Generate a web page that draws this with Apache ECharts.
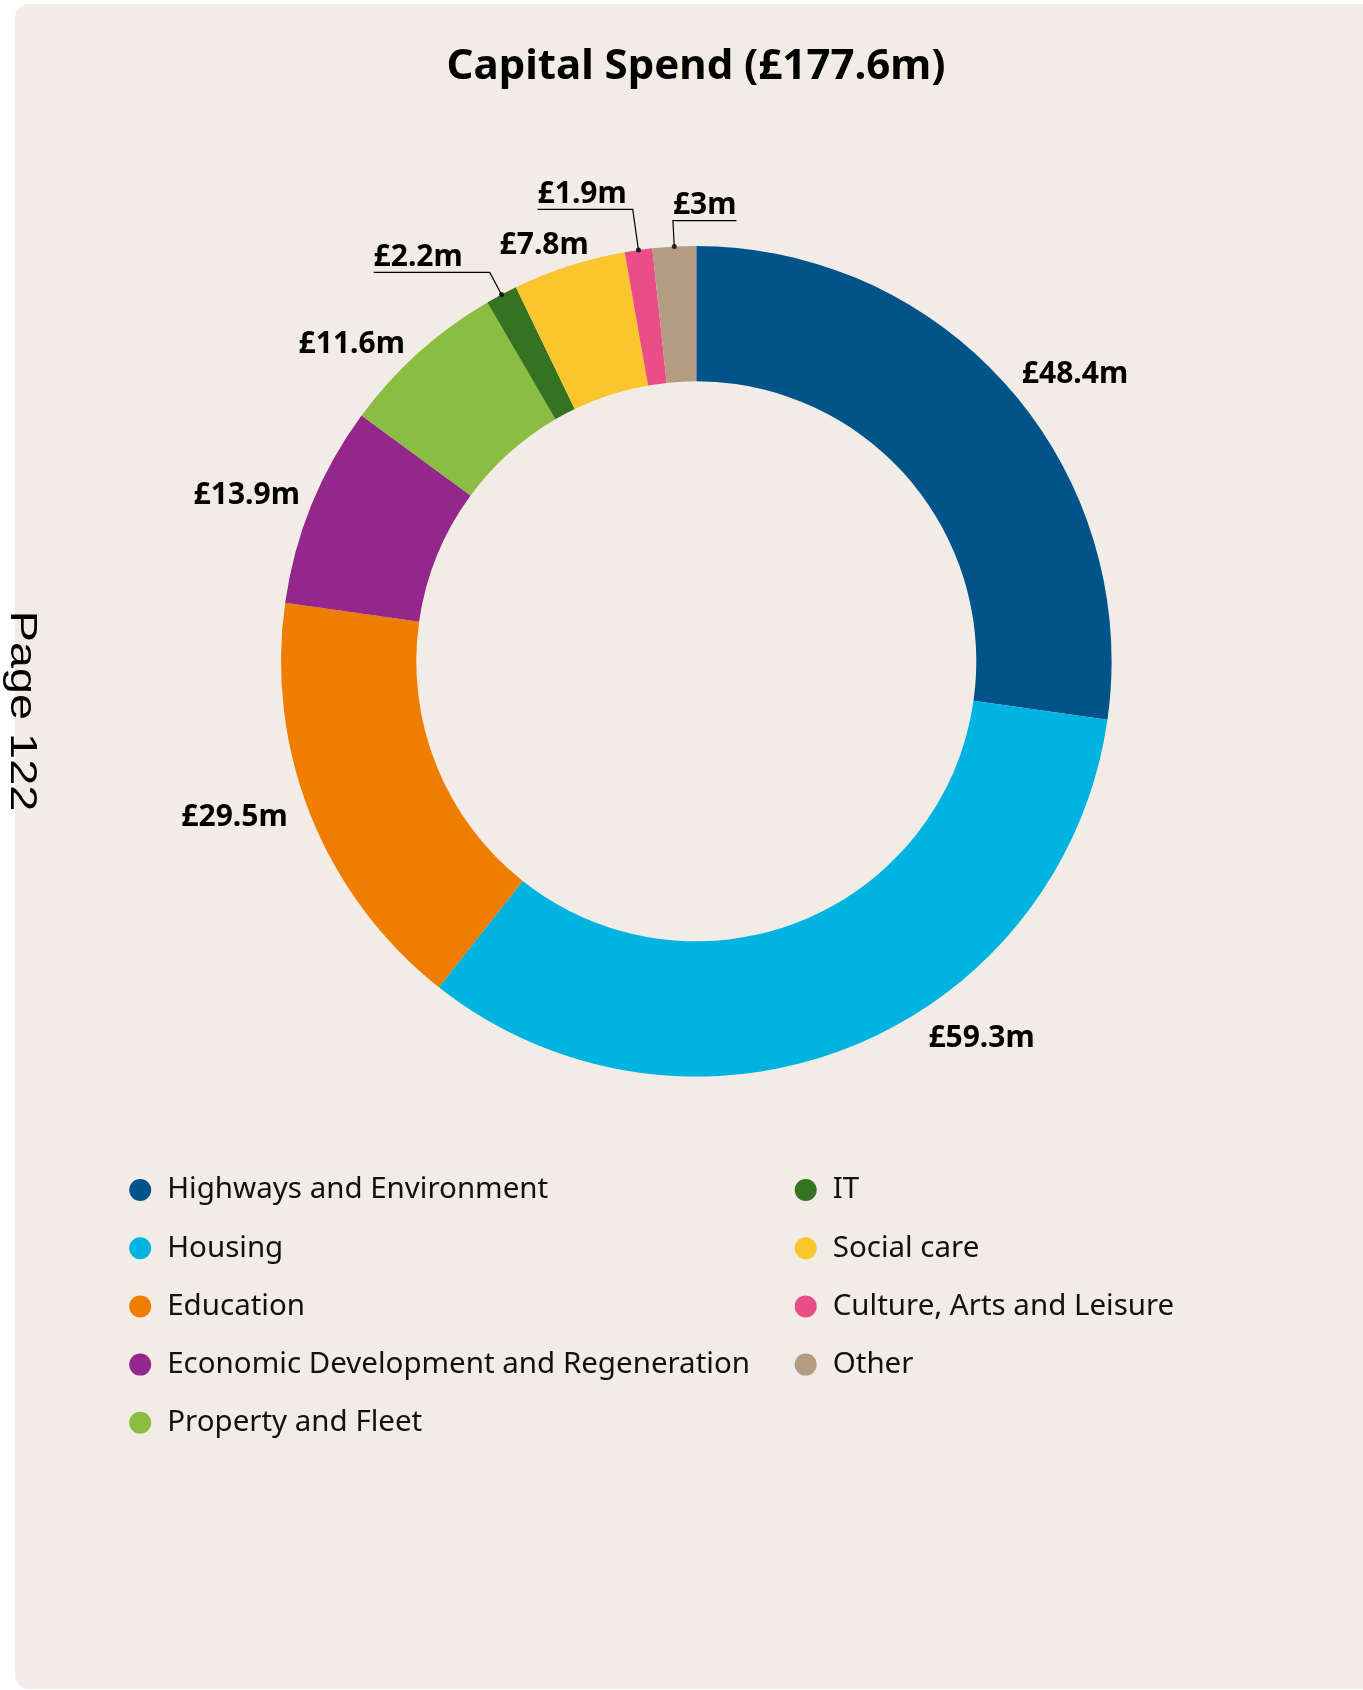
<!DOCTYPE html>
<html>
<head>
<meta charset="utf-8">
<script src="https://cdn.jsdelivr.net/npm/echarts@6/dist/echarts.min.js"></script>
<style>
  html, body { margin: 0; padding: 0; background: #ffffff; }
  #chart { width: 1363px; height: 1690px; }
</style>
</head>
<body>
<div id="chart"></div>
<script>
// ---- data ----
const categories = [
  'Highways and Environment',
  'Housing',
  'Education',
  'Economic Development and Regeneration',
  'Property and Fleet',
  'IT',
  'Social care',
  'Culture, Arts and Leisure',
  'Other'
];
const values = [48.4, 59.3, 29.5, 13.9, 11.6, 2.2, 7.8, 1.9, 3];
const titleText = 'Capital Spend (£177.6m)';
const leftLegend = categories.slice(0, 5);
const rightLegend = categories.slice(5);

// ---- styles ----
const colors = ['#01548a', '#00b3e0', '#ef7d00', '#93278b', '#8abd42', '#357222', '#fbc52e', '#e94e87', '#b49b84'];
// label line [length, length2] per slice (styling only)
const labelLens = [[25, -7], [-11, 82], [0, 23], [29, -15], [13, 5], [25, 27], [24, -27], [41, 6], [26, 0]];
const withConnector = [false, false, false, false, false, true, false, true, true];
const flipRight = [false, false, false, false, false, false, false, false, true];

const CX = 696.3, CY = 661.3, R_OUT = 415.3, R_IN = 280;
const FONT = '"Noto Sans", sans-serif';

const total = values.reduce((a, b) => a + b, 0);
let acc = 0;
const mids = values.map(v => { const m = acc + v / 2; acc += v; return m; });
const dotData = values.map((v, i) => withConnector[i] ? [1, mids[i]] : null).filter(d => d);

const pieData = categories.map((name, i) => ({
  name: name,
  value: values[i],
  itemStyle: { color: colors[i] },
  labelLine: { show: withConnector[i], length: labelLens[i][0], length2: labelLens[i][1] }
}));

const legendText = { fontFamily: FONT, fontSize: 29.5, color: '#111', lineHeight: 29 };

const chart = echarts.init(document.getElementById('chart'), null, { renderer: 'canvas' });
chart.setOption({
  backgroundColor: '#ffffff',
  animation: false,
  graphic: [
    {
      type: 'rect', z: -10, silent: true,
      shape: { x: 15, y: 4, width: 1420, height: 1685, r: 14 },
      style: { fill: '#f1ece6' }
    },
    {
      type: 'text', z: 10, silent: true,
      x: 21, y: 711, rotation: -Math.PI / 2, scaleX: 1.3, scaleY: 1,
      style: { text: 'Page 122', font: '36px "Liberation Sans", Arial, sans-serif', fill: '#000', align: 'center', verticalAlign: 'middle' }
    }
  ],
  title: {
    text: titleText,
    left: 696,
    textAlign: 'center',
    top: 45.5,
    padding: 0,
    textStyle: { fontFamily: FONT, fontSize: 42, fontWeight: 'bold', color: '#000', lineHeight: 43 }
  },
  legend: [
    {
      data: leftLegend,
      orient: 'vertical',
      left: 129.2, top: 1175, padding: 0,
      icon: 'circle', itemWidth: 44, itemHeight: 22, itemGap: 28.2,
      selectedMode: false,
      textStyle: legendText
    },
    {
      data: rightLegend,
      orient: 'vertical',
      left: 794.7, top: 1175, padding: 0,
      icon: 'circle', itemWidth: 44, itemHeight: 22, itemGap: 28.2,
      selectedMode: false,
      textStyle: legendText
    }
  ],
  polar: { center: [CX, CY], radius: [0, R_OUT] },
  angleAxis: { type: 'value', min: 0, max: total, startAngle: 90, clockwise: true, show: false },
  radiusAxis: { type: 'value', min: 0, max: 1, show: false },
  series: [
    {
      type: 'pie',
      center: [CX, CY],
      radius: [R_IN, R_OUT],
      startAngle: 90,
      clockwise: true,
      avoidLabelOverlap: false,
      silent: true,
      z: 2,
      label: {
        show: true,
        position: 'outside',
        formatter: '£{c}m',
        fontFamily: FONT,
        fontSize: 30,
        fontWeight: 'bold',
        color: '#000',
        distanceToLabelLine: 0
      },
      labelLine: {
        lineStyle: { color: '#000', width: 1.2 },
        minTurnAngle: 0,
        maxSurfaceAngle: 180
      },
      labelLayout: function (p) {
        const i = p.dataIndex;
        if (!withConnector[i] || !p.labelLinePoints) return { dy: 2 };
        const pts = p.labelLinePoints;
        const rect = p.labelRect;
        if (flipRight[i]) {
          const bx = pts[1][0], by = pts[1][1];
          return {
            x: bx, y: by - 15, align: 'left', verticalAlign: 'middle',
            labelLinePoints: [pts[0], pts[1], [bx + rect.width, by]]
          };
        }
        return { dy: -15, labelLinePoints: [pts[0], pts[1], [rect.x, pts[2][1]]] };
      },
      data: pieData
    },
    {
      type: 'scatter',
      coordinateSystem: 'polar',
      symbol: 'circle',
      symbolSize: 5,
      silent: true,
      z: 5,
      itemStyle: { color: '#000' },
      data: dotData
    }
  ]
});
</script>
</body>
</html>
